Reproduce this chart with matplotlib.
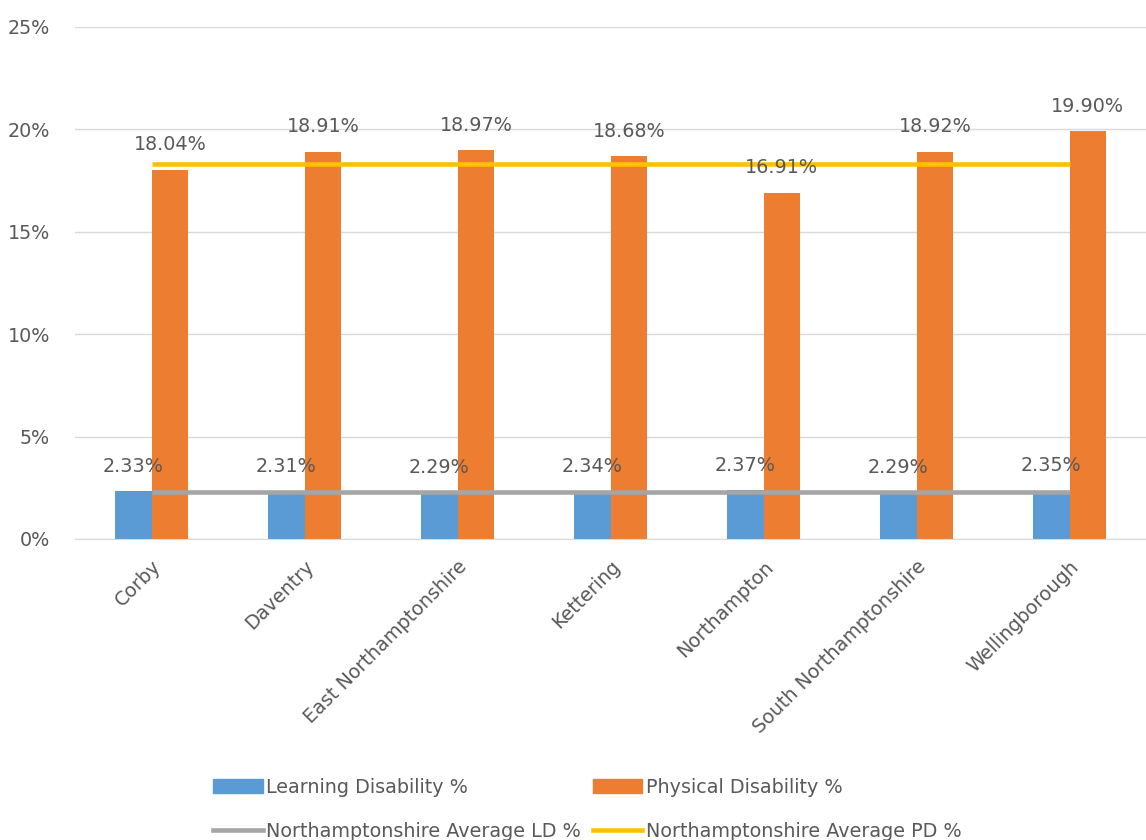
import matplotlib.pyplot as plt
import numpy as np
from matplotlib.patches import Patch
from matplotlib.lines import Line2D

# districts and values
districts = ['Corby', 'Daventry', 'East Northamptonshire', 'Kettering',
             'Northampton', 'South Northamptonshire', 'Wellingborough']
ld_pct = [2.33, 2.31, 2.29, 2.34, 2.37, 2.29, 2.35]
pd_pct = [18.04, 18.91, 18.97, 18.68, 16.91, 18.92, 19.90]
avg_ld = 2.28
avg_pd = 18.3
yticks = [0, 5, 10, 15, 20, 25]

blue, orange, grey, yellow = '#5B9BD5', '#ED7D31', '#A5A5A5', '#FFC000'
txt = '#595959'
fs = 13.8

plt.rcParams['font.family'] = ['DejaVu Sans']
plt.rcParams['font.size'] = fs

fig = plt.figure(figsize=(11.46, 8.4), dpi=100)
ax = fig.add_axes([75/1146, 1 - 539/840, 1071/1146, 512/840])

x = np.arange(len(districts))
w = 0.24
ax.bar(x - w/2, ld_pct, w, color=blue, zorder=2)
ax.bar(x + w/2, pd_pct, w, color=orange, zorder=2)
ax.plot(x, [avg_ld]*len(x), color=grey, lw=3.3, zorder=3, solid_capstyle='butt')
ax.plot(x, [avg_pd]*len(x), color=yellow, lw=3.3, zorder=3, solid_capstyle='butt')

for xi, v in zip(x, ld_pct):
    ax.annotate(f'{v:.2f}%', (xi - w/2, v), xytext=(0, 18), textcoords='offset points',
                ha='center', va='center', color=txt, fontsize=fs, zorder=4)
for xi, v in zip(x, pd_pct):
    ax.annotate(f'{v:.2f}%', (xi + w/2, v), xytext=(0, 18), textcoords='offset points',
                ha='center', va='center', color=txt, fontsize=fs, zorder=4)

ax.set_xlim(-0.5, len(x) - 0.5)
ax.set_ylim(0, 25)
ax.set_yticks(yticks)
ax.set_yticklabels([f'{t}%' for t in yticks], color=txt, fontsize=fs)
ax.set_xticks(x)
ax.set_xticklabels(districts, rotation=45, ha='right', rotation_mode='anchor',
                   color=txt, fontsize=fs)
ax.tick_params(length=0, pad=13)
ax.tick_params(axis='y', pad=18)
ax.grid(axis='y', color='#D9D9D9', lw=1, zorder=0)
for s in ['top', 'right', 'left']:
    ax.spines[s].set_visible(False)
ax.spines['bottom'].set_color('#D9D9D9')

handles = [Patch(color=blue), Line2D([], [], color=grey, lw=3.3),
           Patch(color=orange), Line2D([], [], color=yellow, lw=3.3)]
labels = ['Learning Disability %', 'Northamptonshire Average LD %',
          'Physical Disability %', 'Northamptonshire Average PD %']
fig.legend(handles, labels, ncol=2, loc='upper left', bbox_to_anchor=(205/1146, 1 - 770/840),
           frameon=False, handlelength=2.6, handletextpad=0.2, columnspacing=0.6,
           labelspacing=1.3, fontsize=fs, labelcolor=txt, borderaxespad=0)

fig.savefig('out.png', dpi=100)
